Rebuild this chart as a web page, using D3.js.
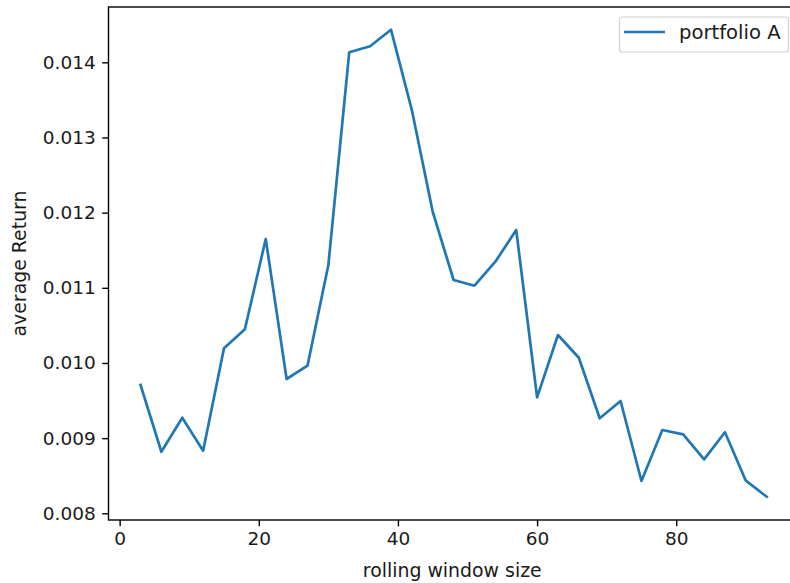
<!DOCTYPE html>
<html><head><meta charset="utf-8">
<script src="https://cdn.jsdelivr.net/npm/d3@7"></script>
<style>body{margin:0;background:#fff}svg{display:block}text{font-family:"DejaVu Sans",sans-serif;fill:#1a1a1a}</style>
</head><body>
<svg id="c" width="790" height="583"></svg>
<script>
const windowSizes = [3,6,9,12,15,18,21,24,27,30,33,36,39,42,45,48,51,54,57,60,63,66,69,72,75,78,81,84,87,90,93];
const avgReturn = [0.009707,0.008819,0.009272,0.008833,0.010195,0.010448,0.011649,0.009787,0.009964,0.011303,
  0.014133,0.014213,0.014434,0.013365,0.012012,0.011104,0.011028,0.011347,0.011769,0.009543,
  0.010372,0.010070,0.009264,0.009494,0.008430,0.009108,0.009051,0.008718,0.009078,0.008434,0.008221];
const xTicks = [0,20,40,60,80];
const yTicks = [0.008,0.009,0.010,0.011,0.012,0.013,0.014];
const seriesName = "portfolio A";

const L=108.5, R=798, T=7, B=520, FS=18.5;
const svg=d3.select("#c");
const x=d3.scaleLinear().domain([-1.5,97.5]).range([L+0.7,R]);
const y=d3.scaleLinear().domain([0.007911,0.014736]).range([B,T]);

const line=d3.line().x((d,i)=>x(windowSizes[i])).y(d=>y(d));
svg.append("path").datum(avgReturn).attr("d",line).attr("fill","none")
  .attr("stroke","#1f77b4").attr("stroke-width",2.7).attr("stroke-linejoin","round").attr("stroke-linecap","square");

const xa=svg.append("g").attr("transform",`translate(0,${B})`)
  .call(d3.axisBottom(x).tickValues(xTicks).tickSize(6.3).tickPadding(6).tickFormat(d3.format("d")));
const ya=svg.append("g").attr("transform",`translate(${L},0)`)
  .call(d3.axisLeft(y).tickValues(yTicks).tickSize(6.3).tickPadding(6.5).tickFormat(d3.format(".3f")));
[xa,ya].forEach(g=>{g.select(".domain").remove();g.selectAll("line").attr("stroke","#000").attr("stroke-width",1.4);
  g.selectAll("text").attr("font-size",FS).attr("font-family","DejaVu Sans").attr("fill","#1a1a1a");});

svg.append("rect").attr("x",L).attr("y",T).attr("width",R-L).attr("height",B-T)
  .attr("fill","none").attr("stroke","#000").attr("stroke-width",1.4);

svg.append("text").attr("x",(L+R)/2-1).attr("y",577).attr("text-anchor","middle").attr("font-size",18.9).text("rolling window size");
svg.append("text").attr("transform",`translate(25.5,${(T+B)/2}) rotate(-90)`).attr("text-anchor","middle").attr("font-size",18.9).text("average Return");

const lg=svg.append("g");
lg.append("rect").attr("x",619.5).attr("y",17).attr("width",169).attr("height",35).attr("rx",3)
  .attr("fill","#fff").attr("fill-opacity",0.8).attr("stroke","#d0d0d0").attr("stroke-width",1.2);
lg.append("line").attr("x1",624).attr("x2",665).attr("y1",32).attr("y2",32).attr("stroke","#1f77b4").attr("stroke-width",2.7);
lg.append("text").attr("x",679).attr("y",38.5).attr("font-size",19.6).text(seriesName);
</script>
</body></html>
